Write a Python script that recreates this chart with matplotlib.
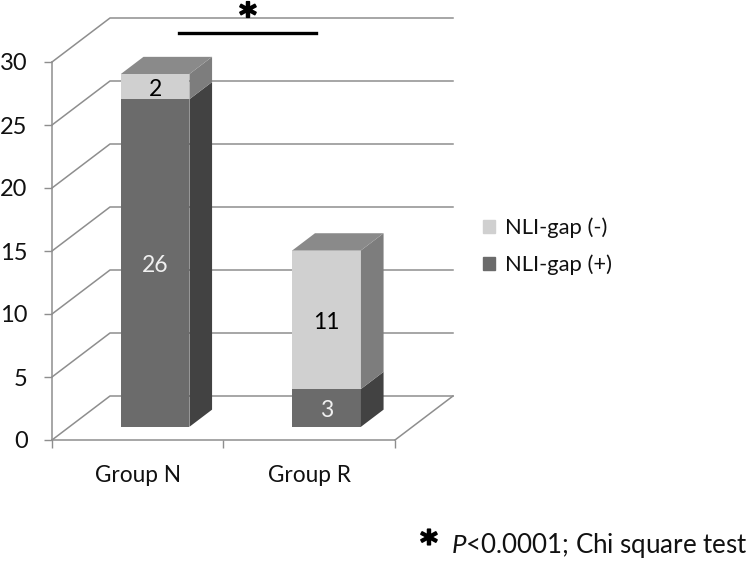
# stacked 3d style columns, faked on a plain 2d axes
import matplotlib

matplotlib.use("Agg")
import matplotlib.patheffects as pe
import matplotlib.pyplot as plt
import numpy as np
from matplotlib.patches import Patch

groups = ["Group N", "Group R"]
gap_pos = np.array([26, 3])
gap_neg = np.array([2, 11])
y_ticks = [0, 5, 10, 15, 20, 25, 30]
legend_labels = ["NLI-gap (-)", "NLI-gap (+)"]
footnote = r"$\mathit{P}$<0.0001; Chi square test"

W, H = 750, 562
LEFT, RIGHT, BOTTOM, TOP = 52, 395, 440, 62

# depth of the box in data units
DX = 58 / ((RIGHT - LEFT) / 2)
DY = 44 / ((BOTTOM - TOP) / 30)
BAR_W = 0.4
D_FRONT = 0.3
D_BACK = 0.69

DARK = {"front": "#6b6b6b", "side": "#424242"}
LIGHT = {"front": "#d0d0d0", "side": "#7d7d7d"}
TOP_FACE = "#8a8a8a"
LINE = "#8e8e8e"

plt.rcParams["font.family"] = ["Lato", "DejaVu Sans"]
plt.rcParams["mathtext.fontset"] = "custom"
plt.rcParams["mathtext.it"] = "Lato:italic"


def fig_xy(x, y):
    # image pixels to figure fraction
    return x / W, 1 - y / H


fig = plt.figure(figsize=(W / 100, H / 100), dpi=100)
ax = fig.add_axes([LEFT / W, 1 - BOTTOM / H, (RIGHT - LEFT) / W, (BOTTOM - TOP) / H])
ax.set_xlim(0, 2)
ax.set_ylim(0, 30)

# wall lines, front edge -> back edge -> right end
for t in y_ticks:
    ax.plot([0, DX, 2 + DX], [t, t + DY, t + DY], color=LINE, lw=1.1, clip_on=False, zorder=1)
ax.plot([2, 2 + DX], [0, DY], color=LINE, lw=1.1, clip_on=False, zorder=1)

x_front = np.arange(len(groups)) + 0.5 + D_FRONT * DX
base = D_FRONT * DY
# labels sit a bit under the middle of each block
LABEL_DROP = 0.2


def draw_segment(x, y0, y1, colors, with_top=False):
    # front face, side face and top of one stacked block
    ax.bar(x, y1 - y0, BAR_W, bottom=base + y0, color=colors["front"], zorder=3, clip_on=False)
    x_r = x + BAR_W / 2
    off_x = (D_BACK - D_FRONT) * DX
    off_y = (D_BACK - D_FRONT) * DY
    ax.fill(
        [x_r, x_r + off_x, x_r + off_x, x_r],
        [base + y0, base + y0 + off_y, base + y1 + off_y, base + y1],
        color=colors["side"], lw=0, zorder=3, clip_on=False,
    )
    if with_top:
        x_l = x - BAR_W / 2
        ax.fill(
            [x_l, x_r, x_r + off_x, x_l + off_x],
            [base + y1, base + y1, base + y1 + off_y, base + y1 + off_y],
            color=TOP_FACE, lw=0, zorder=3, clip_on=False,
        )


for i, x in enumerate(x_front):
    draw_segment(x, 0, gap_pos[i], DARK)
    draw_segment(x, gap_pos[i], gap_pos[i] + gap_neg[i], LIGHT, with_top=True)
    ax.text(x, base + gap_pos[i] / 2 - LABEL_DROP, str(gap_pos[i]), color="#f0f0f0", fontsize=16.5,
            ha="center", va="center", zorder=4)
    ax.text(x, base + gap_pos[i] + gap_neg[i] / 2 - LABEL_DROP, str(gap_neg[i]), color="black", fontsize=16.5,
            ha="center", va="center", zorder=4)

for side in ["top", "right"]:
    ax.spines[side].set_visible(False)
for side in ["left", "bottom"]:
    ax.spines[side].set_color(LINE)
    ax.spines[side].set_linewidth(1.1)

ax.set_yticks(y_ticks)
ax.set_xticks([0, 1, 2])
ax.set_xticklabels([])
ax.set_xticks([0.5, 1.5], labels=groups, minor=True)
ax.tick_params(axis="y", length=5.5, width=1, color=LINE, pad=12, labelsize=17, labelcolor="#111111")
ax.tick_params(axis="x", which="major", length=6, width=1, color=LINE)
ax.tick_params(axis="x", which="minor", length=0, pad=18, labelsize=16.3, labelcolor="#111111")

handles = [Patch(color=LIGHT["front"]), Patch(color=DARK["front"])]
ax.legend(
    handles, legend_labels, frameon=False, fontsize=15.8, labelcolor="#111111",
    loc="center left", bbox_to_anchor=fig_xy(483, 246.5), bbox_transform=fig.transFigure,
    handlelength=0.55, handleheight=0.55, handletextpad=0.45, labelspacing=0.74,
    borderpad=0, borderaxespad=0,
)

# significance bar and footnote
x0, y0 = fig_xy(179, 33)
x1, _ = fig_xy(316, 33)
fig.add_artist(plt.Line2D([x0, x1], [y0, y0], color="black", lw=2.4))
fat = [pe.withStroke(linewidth=1.2, foreground="black")]
fig.text(*fig_xy(248, 17), "*", fontsize=24, fontweight="bold", family="DejaVu Sans",
         ha="center", va="center", path_effects=fat)
fig.text(*fig_xy(429, 544.5), "*", fontsize=24, fontweight="bold", family="DejaVu Sans",
         ha="center", va="center", path_effects=fat)
fig.text(*fig_xy(451, 545), footnote, fontsize=18.6, color="#111111", ha="left", va="center")

fig.savefig("out.png", dpi=100)
